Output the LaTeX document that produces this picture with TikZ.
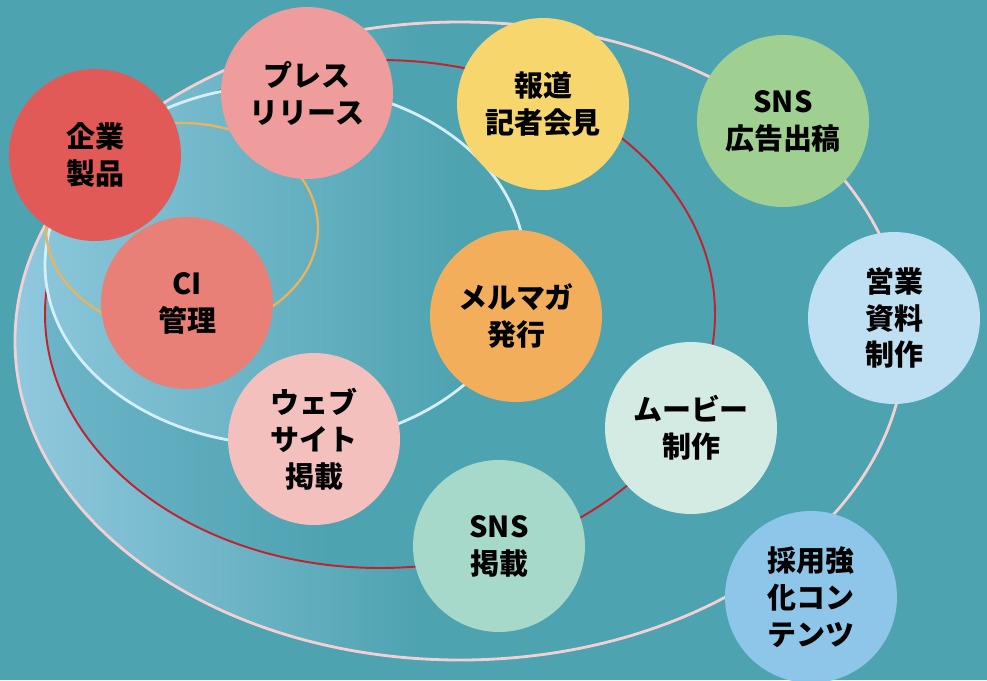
\documentclass[tikz,border=0pt]{standalone}
\usepackage{fontspec}
\newfontfamily\jpfont{Noto Sans CJK JP}
\definecolor{bgteal}{HTML}{4EA3B1}
\definecolor{bandlight}{HTML}{93CAE0}
\definecolor{bandmid}{HTML}{6DB5C9}
\definecolor{innerlight}{HTML}{8AC6DA}
\definecolor{ringpink}{HTML}{F3D0D4}
\definecolor{ringblue}{HTML}{D6EEF8}
\definecolor{ringred}{HTML}{C4212C}
\definecolor{ringorange}{HTML}{EBB45C}
\definecolor{ckigyo}{HTML}{E25A58}
\definecolor{cpress}{HTML}{EF9C9C}
\definecolor{choudou}{HTML}{F8D66E}
\definecolor{csnsad}{HTML}{A0D091}
\definecolor{ceigyo}{HTML}{BFE0F3}
\definecolor{cci}{HTML}{E88077}
\definecolor{cmail}{HTML}{F2AE5B}
\definecolor{cweb}{HTML}{F4C0BE}
\definecolor{cmovie}{HTML}{D4EBE4}
\definecolor{csnspost}{HTML}{A6D9CA}
\definecolor{csaiyou}{HTML}{8EC6EA}
\tikzset{bubble/.style={circle, minimum size=3.44cm, inner sep=0pt, align=center,
  font=\jpfont\bfseries\fontsize{16.5}{21}\selectfont, text=black}}
\begin{document}
\begin{tikzpicture}[x=0.02cm,y=-0.02cm]
\fill[bgteal] (0,0) rectangle (987,680);%
\useasboundingbox (0,0) rectangle (987,680);%
\begin{scope}
\clip (460,341) ellipse [x radius=445, y radius=319];%
\shade[left color=bandlight, right color=bgteal] (0,0) rectangle (420,680);%
\end{scope}
\begin{scope}
\clip (380,314) ellipse [x radius=335, y radius=254];%
\fill[bgteal] (40,0) rectangle (720,680);%
\shade[left color=bandmid, right color=bgteal] (40,0) rectangle (330,680);%
\end{scope}
\draw[ringred, line width=1.1pt] (380,314) ellipse [x radius=335, y radius=254];%
\begin{scope}
\clip (285,265) ellipse [x radius=240, y radius=180];%
\shade[left color=innerlight, right color=bgteal] (40,0) rectangle (460,680);%
\end{scope}
\begin{scope}[line width=1.6pt]
\draw[ringblue] (285,265) ellipse [x radius=240, y radius=180];%
\draw[ringpink] (460,341) ellipse [x radius=445, y radius=319];%
\draw[ringorange, line width=1.3pt] (182,228) ellipse [x radius=136, y radius=105];%
\end{scope}
\node[bubble, fill=ckigyo] (kigyo) at (95,155) {企業\\製品};%
\node[bubble, fill=cpress] (press) at (307,93) {プレス\\リリース};%
\node[bubble, fill=choudou] (houdou) at (543,104) {報道\\記者会見};%
\node[bubble, fill=csnsad] (snsad) at (783,121) {SNS\\広告出稿};%
\node[bubble, fill=ceigyo] (eigyo) at (894,318) {営業\\資料\\制作};%
\node[bubble, fill=cci] (ci) at (187,303) {CI\\管理};%
\node[bubble, fill=cmail] (mailmag) at (516,316) {メルマガ\\発行};%
\node[bubble, fill=cweb] (web) at (314,439) {ウェブ\\サイト\\掲載};%
\node[bubble, fill=cmovie] (movie) at (691,428) {ムービー\\制作};%
\node[bubble, fill=csnspost] (snspost) at (499,546) {SNS\\掲載};%
\node[bubble, fill=csaiyou] (saiyou) at (811,597) {採用強\\化コン\\テンツ};%
\end{tikzpicture}
\end{document}
